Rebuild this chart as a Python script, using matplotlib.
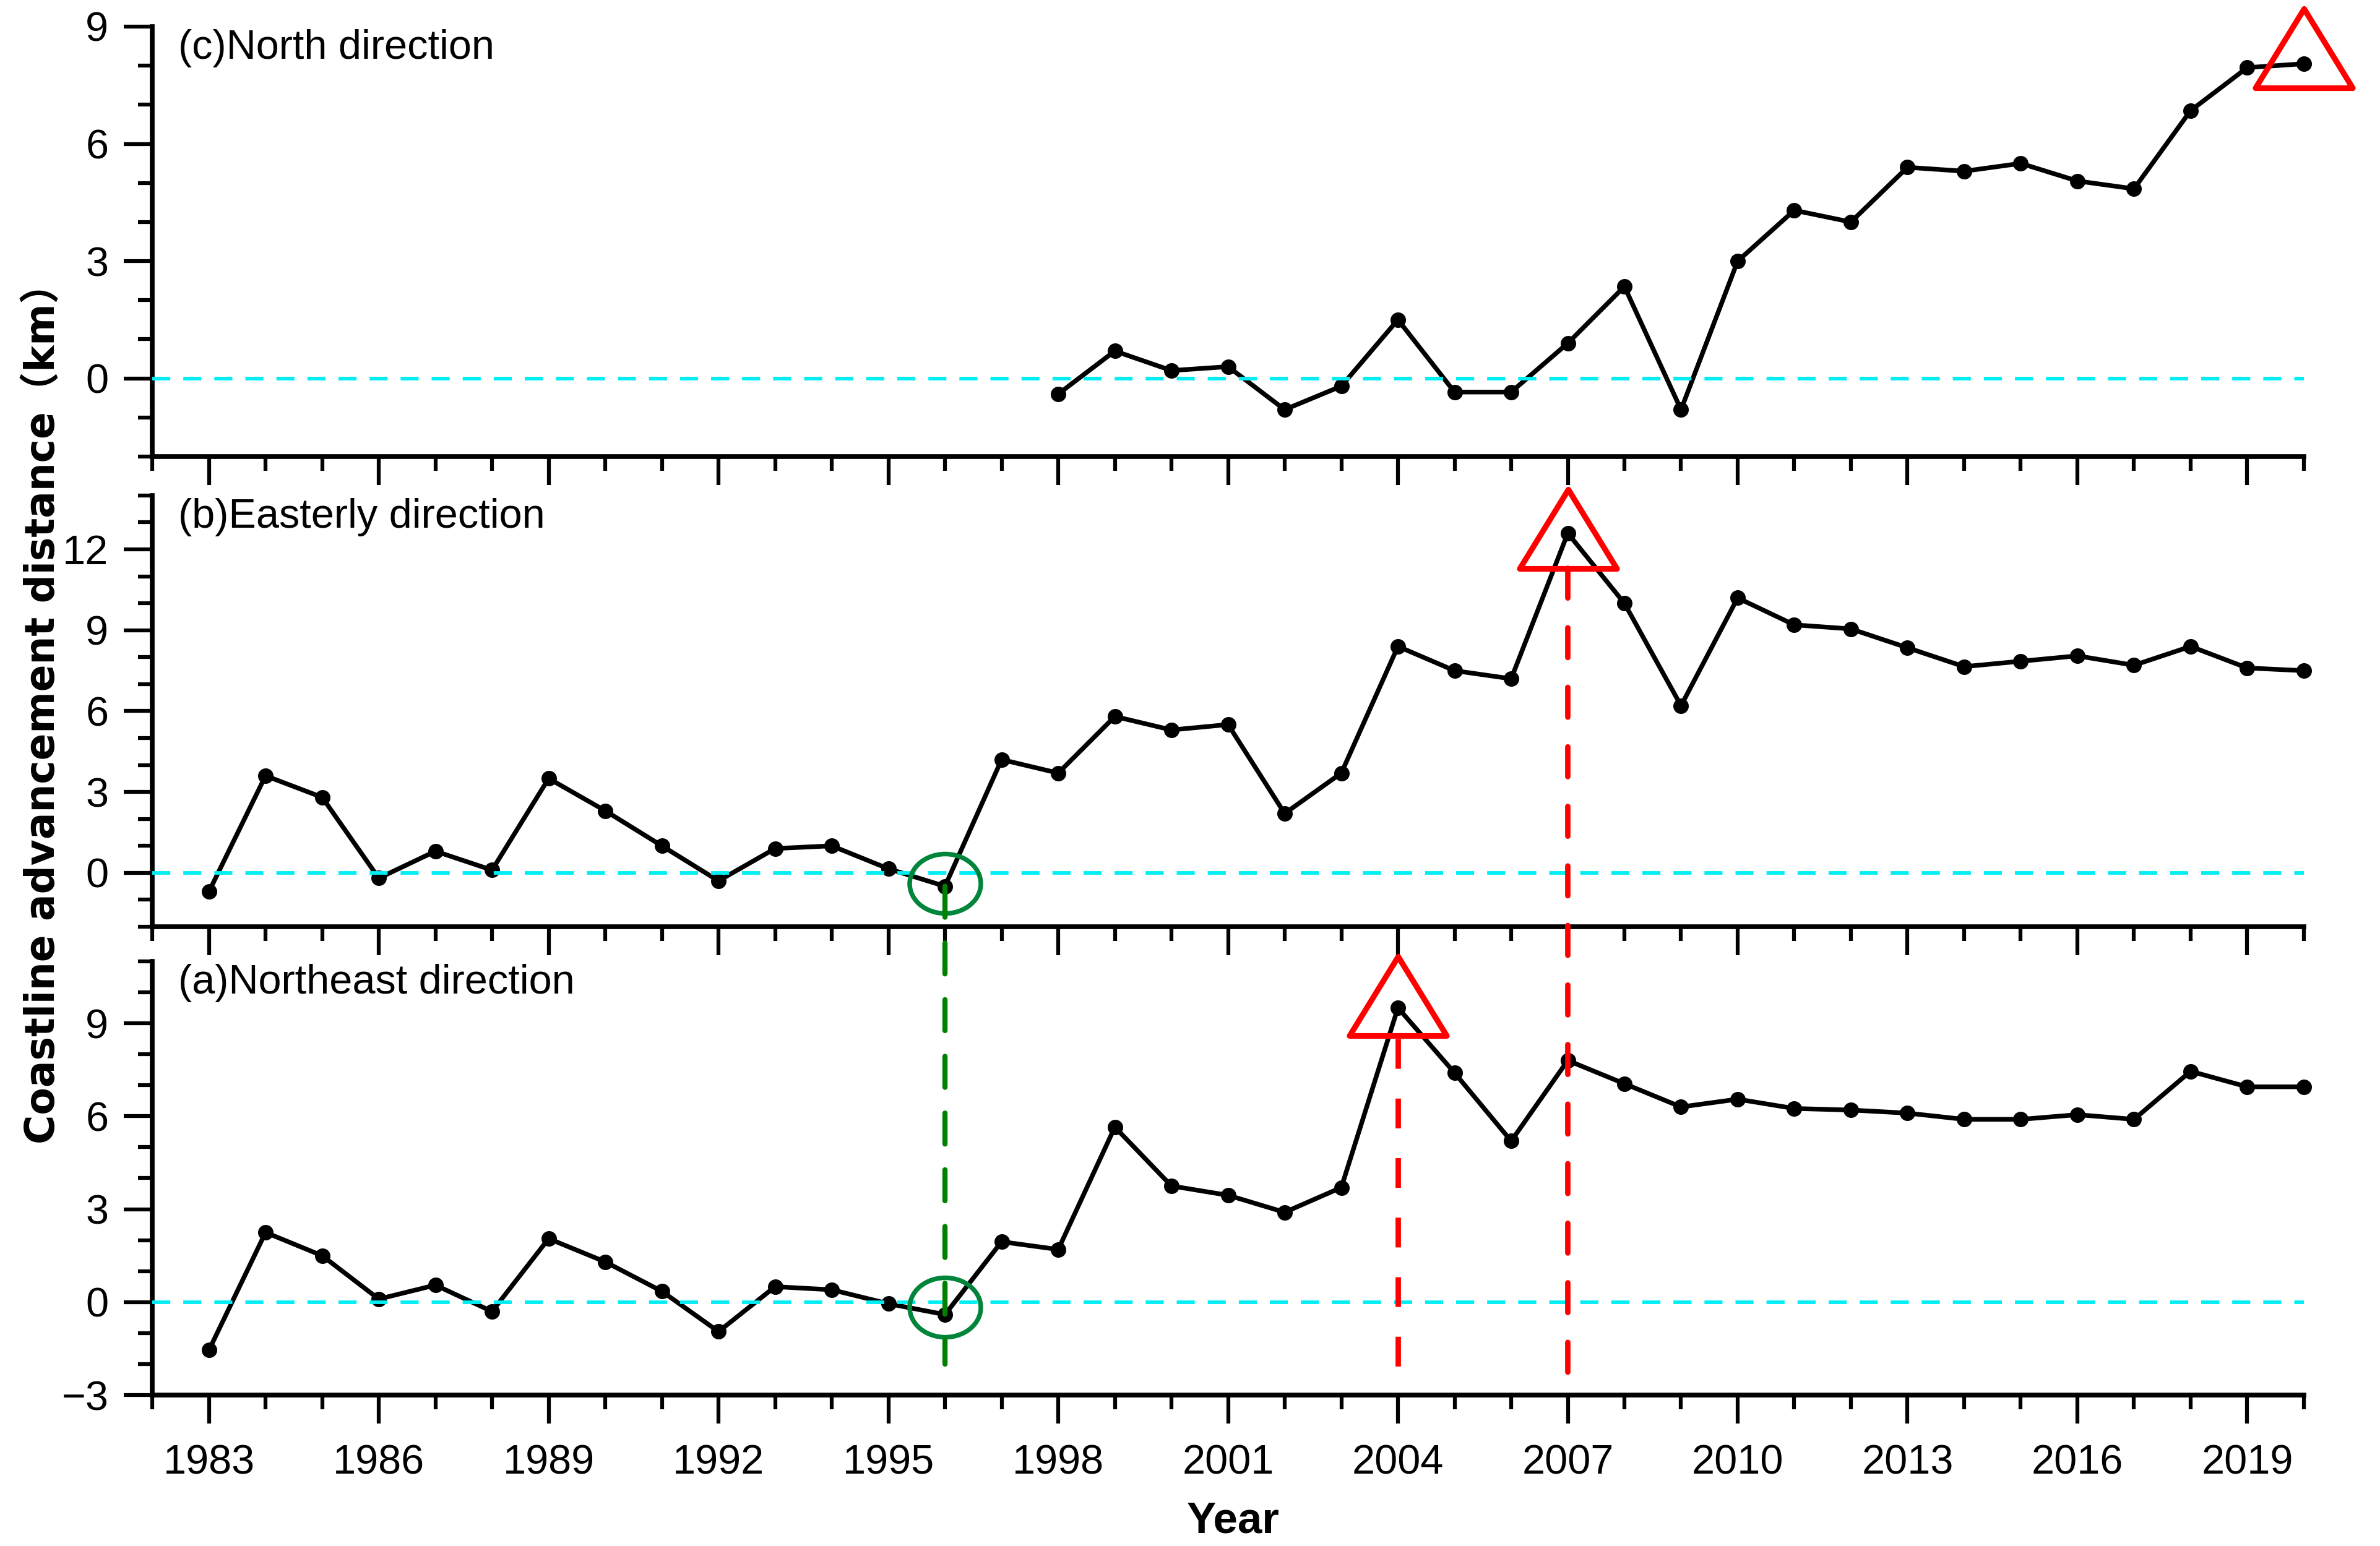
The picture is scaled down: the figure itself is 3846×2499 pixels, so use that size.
import matplotlib.pyplot as plt
import numpy as np
from matplotlib.patches import ConnectionPatch
from matplotlib.path import Path

plt.rcParams['font.family'] = ['Liberation Sans Narrow', 'Liberation Sans', 'DejaVu Sans']

# data (km)
years = list(range(1983, 2021))
years_north = list(range(1998, 2021))

north = [-0.4, 0.7, 0.2, 0.3, -0.8, -0.2, 1.5, -0.35, -0.35, 0.9, 2.35, -0.8,
         3.0, 4.3, 4.0, 5.4, 5.3, 5.5, 5.05, 4.85, 6.85, 7.95, 8.05]

east = [-0.7, 3.6, 2.8, -0.2, 0.8, 0.1, 3.5, 2.3, 1.0, -0.3, 0.9, 1.0, 0.15,
        -0.5, 4.2, 3.7, 5.8, 5.3, 5.5, 2.2, 3.7, 8.4, 7.5, 7.2, 12.6, 10.0,
        6.2, 10.2, 9.2, 9.05, 8.35, 7.65, 7.85, 8.05, 7.7, 8.4, 7.6, 7.5]

northeast = [-1.55, 2.25, 1.5, 0.1, 0.55, -0.3, 2.05, 1.3, 0.35, -0.95, 0.5,
             0.4, -0.05, -0.4, 1.95, 1.7, 5.65, 3.75, 3.45, 2.9, 3.7, 9.5,
             7.4, 5.2, 7.8, 7.05, 6.3, 6.55, 6.25, 6.2, 6.1, 5.9, 5.9, 6.05,
             5.9, 7.45, 6.95, 6.95]

labels = ['(c)North direction', '(b)Easterly direction', '(a)Northeast direction']
ylims = [(-2, 9), (-2, 14), (-3, 11)]

fig = plt.figure(figsize=(12.82, 8.33), dpi=300)
left, width = 0.064, 0.904
ax_c = fig.add_axes([left, 0.7047, width, 0.2781])
ax_b = fig.add_axes([left, 0.4006, width, 0.2789])
ax_a = fig.add_axes([left, 0.0976, width, 0.2806])
axes = [ax_c, ax_b, ax_a]
series = [(years_north, north), (years, east), (years, northeast)]

for ax, (xs, ys), lab, yl in zip(axes, series, labels, ylims):
    ax.plot(xs, ys, color='black', lw=1.8, marker='o', ms=5, zorder=2, clip_on=False)
    ax.axhline(0, color='#00eef4', lw=1.4, dashes=(5, 3.6), zorder=3)
    ax.set_xlim(1982, 2020)
    ax.set_ylim(*yl)
    ax.set_xticks(range(1983, 2021, 3))
    ax.set_xticks(range(1982, 2021), minor=True)
    ax.set_yticks(range(yl[0] + (-yl[0]) % 3, yl[1] + 1, 3))
    ax.set_yticks(range(yl[0], yl[1] + 1), minor=True)
    for s in ['top', 'right']:
        ax.spines[s].set_visible(False)
    for s in ['left', 'bottom']:
        ax.spines[s].set_linewidth(1.85)
    ax.tick_params(which='major', length=11, width=1.5, labelsize=16)
    ax.tick_params(which='minor', length=5.5, width=1.5)
    ax.tick_params(axis='x', which='major', pad=8)
    ax.tick_params(axis='y', which='major', pad=6)
    ax.text(0.012, 0.95, lab, transform=ax.transAxes, fontsize=16, va='center', ha='left')

ax_c.tick_params(axis='x', labelbottom=False)
ax_b.tick_params(axis='x', labelbottom=False)

# peak markers
tri = Path([(0, 0.815), (-1, -0.815), (1, -0.815), (0, 0.815)],
           [Path.MOVETO, Path.LINETO, Path.LINETO, Path.CLOSEPOLY])
circ = Path.unit_circle()
ell = Path(circ.vertices * np.array([1.0, 0.835]), circ.codes)

tri_style = dict(marker=tri, ms=37.7, mfc='none', mec='red', mew=2.2,
                 zorder=4, clip_on=False, ls='none')
ax_c.plot([2020], [8.45], **tri_style)
ax_b.plot([2007], [12.75], **tri_style)
ax_a.plot([2004], [9.88], **tri_style)

ell_style = dict(marker=ell, ms=27.6, mfc='none', mec='#00853a', mew=1.8,
                 zorder=4, clip_on=False, ls='none')
ax_b.plot([1996], [-0.4], **ell_style)
ax_a.plot([1996], [-0.16], **ell_style)

# guide lines
ax_a.plot([2004, 2004], [8.5, -2.7], color='red', lw=2.1, dashes=(5.5, 5.5), zorder=4)
con_red = ConnectionPatch(xyA=(2007, 11.3), coordsA=ax_b.transData,
                          xyB=(2007, -2.5), coordsB=ax_a.transData,
                          color='red', lw=2.1, linestyle=(0, (5.5, 5.5)), zorder=5)
fig.add_artist(con_red)
con_green = ConnectionPatch(xyA=(1996, -0.5), coordsA=ax_b.transData,
                            xyB=(1996, -2.0), coordsB=ax_a.transData,
                            color='green', lw=2.0, linestyle=(0, (6, 5)), zorder=5)
fig.add_artist(con_green)

fig.text(0.018, 0.545, 'Coastline advancement distance（km）', rotation=90,
         ha='center', va='center', fontsize=15.5, fontweight='bold',
         family=['DejaVu Sans', 'Noto Sans CJK SC'])
fig.text(0.518, 0.016, 'Year', ha='center', va='center', fontsize=17, fontweight='bold')

fig.savefig('out.png', dpi=300)
